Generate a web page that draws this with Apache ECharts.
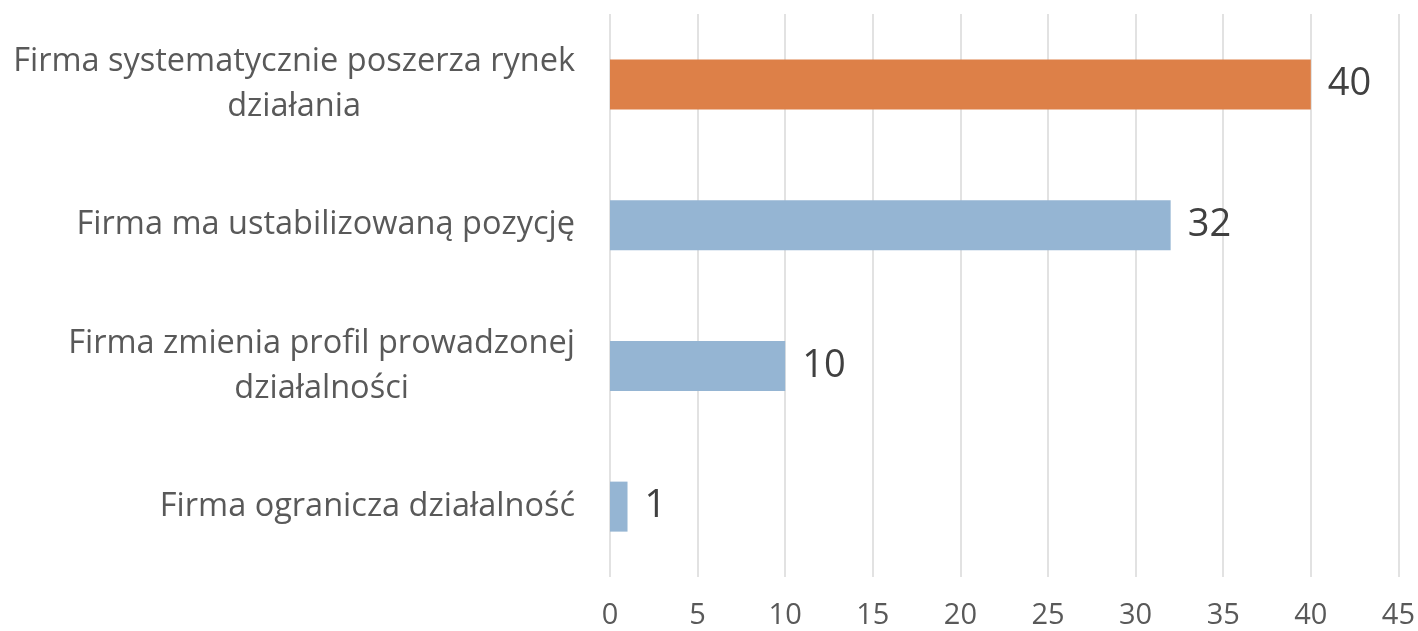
<!DOCTYPE html>
<html>
<head>
<meta charset="utf-8">
<script src="https://cdn.jsdelivr.net/npm/echarts@6/dist/echarts.min.js"></script>
<style>
  html, body { margin: 0; padding: 0; background: #fff; }
  #chart { width: 1418px; height: 631px; }
</style>
</head>
<body>
<div id="chart"></div>
<script>
// kategorie od dołu do góry
const categories = [
  "Firma ogranicza działalność",
  "Firma zmienia profil prowadzonej\ndziałalności",
  "Firma ma ustabilizowaną pozycję",
  "Firma systematycznie poszerza rynek\ndziałania"
];
const values = [1, 10, 32, 40];
const xTicks = [0, 5, 10, 15, 20, 25, 30, 35, 40, 45];

// najwyższy słupek wyróżniony kolorem
const maxIndex = values.indexOf(Math.max(...values));

const chart = echarts.init(document.getElementById("chart"));
const font = "Open Sans";

const option = {
  animation: false,
  grid: {
    left: 610,
    right: 19,
    top: 14,
    bottom: 54,
  },
  xAxis: {
    type: "value",
    min: xTicks[0],
    max: xTicks[xTicks.length - 1],
    interval: 5,
    axisLine: { show: false },
    axisTick: { show: false },
    splitLine: {
      show: true,
      lineStyle: { color: "#d9d9d9", width: 1.5 },
    },
    axisLabel: {
      color: "#595959",
      fontSize: 29,
      fontFamily: font,
      margin: 24,
    },
  },
  yAxis: {
    type: "category",
    data: categories,
    axisLine: { show: false },
    axisTick: { show: false },
    axisLabel: {
      margin: 35,
      align: "right",
      formatter: function (v) {
        return v.split("\n").map((l) => "{c|" + l + "}").join("\n");
      },
      rich: {
        c: {
          align: "center",
          color: "#595959",
          fontSize: 32.5,
          fontFamily: font,
          lineHeight: 45,
        },
      },
    },
  },
  series: [
    {
      type: "bar",
      barWidth: 50,
      data: values,
      itemStyle: {
        color: function (p) {
          return p.dataIndex === maxIndex ? "#dd8048" : "#95b5d3";
        },
      },
      label: {
        show: true,
        position: "right",
        distance: 17,
        color: "#404040",
        fontSize: 38,
        fontFamily: font,
      },
    },
  ],
};
chart.setOption(option);
</script>
</body>
</html>
